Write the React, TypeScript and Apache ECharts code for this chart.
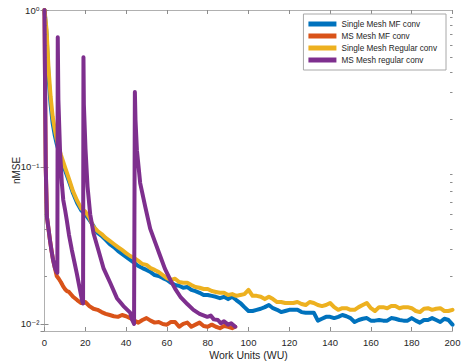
import React, { useEffect, useRef } from 'react';
import * as echarts from 'echarts';

// Shared WU grid for the two single-mesh curves
const gridX = [
  0, 1, 2, 3, 4, 5, 6, 7,
  8, 10, 12, 14, 16, 18, 20, 22, 24, 26, 28, 30,
  32, 34, 36, 38, 40, 42, 44, 46, 48, 50,
  52, 54, 56, 58, 60, 62, 64, 66, 68, 70,
  72, 74, 76, 78, 80, 82, 84, 86, 88, 90,
  92, 94, 96, 98, 100, 102, 104, 106, 108, 110,
  112, 114, 116, 118, 120, 122, 124, 126, 128, 130,
  132, 134, 136, 138, 140, 142, 144, 146, 148, 150,
  152, 154, 156, 158, 160, 162, 164, 166, 168, 170,
  172, 174, 176, 178, 180, 182, 184, 186, 188, 190,
  192, 194, 196, 198, 200,
];

const singleMF = [
  1.0, 0.7, 0.37, 0.25, 0.19, 0.16, 0.14, 0.126,
  0.114, 0.096, 0.081, 0.068, 0.059, 0.053, 0.050, 0.046, 0.0421, 0.0380, 0.0364, 0.0343,
  0.0323, 0.0309, 0.0292, 0.0279, 0.0267, 0.0256, 0.0245, 0.0234, 0.0227, 0.0221,
  0.0214, 0.0205, 0.0202, 0.0196, 0.0191, 0.0183, 0.0177, 0.0175, 0.0170, 0.0172,
  0.0165, 0.0162, 0.0158, 0.0153, 0.0153, 0.0151, 0.0149, 0.0146, 0.0149, 0.0144,
  0.0149, 0.0142, 0.0136, 0.0128, 0.0121, 0.0121, 0.0123, 0.0125, 0.0128, 0.0132,
  0.0126, 0.0123, 0.0119, 0.0121, 0.0123, 0.0123, 0.0123, 0.0119, 0.0118, 0.0118,
  0.0118, 0.0105, 0.0108, 0.0111, 0.0111, 0.0109, 0.0111, 0.0114, 0.0112, 0.0109,
  0.0103, 0.0106, 0.0108, 0.0109, 0.0105, 0.0105, 0.0106, 0.0105, 0.0105, 0.0109,
  0.0108, 0.0106, 0.0105, 0.0105, 0.0109, 0.0105, 0.0102, 0.0106, 0.0106, 0.0109,
  0.0106, 0.0103, 0.0108, 0.0106, 0.0099,
];

const singleRegular = [
  1.0, 0.75, 0.42, 0.28, 0.21, 0.175, 0.15, 0.133,
  0.12, 0.1, 0.084, 0.07, 0.061, 0.0545, 0.052, 0.0475, 0.0415, 0.0391, 0.0374, 0.0353,
  0.0338, 0.0323, 0.0309, 0.0296, 0.0283, 0.0271, 0.0263, 0.0252, 0.0241, 0.0238,
  0.0227, 0.0221, 0.0214, 0.0205, 0.0196, 0.0191, 0.0194, 0.0185, 0.0183, 0.0183,
  0.0177, 0.0172, 0.0170, 0.0167, 0.0167, 0.0162, 0.0160, 0.0158, 0.0158, 0.0153,
  0.0155, 0.0151, 0.0153, 0.0155, 0.0165, 0.0151, 0.0151, 0.0149, 0.0144, 0.0149,
  0.0144, 0.0138, 0.0138, 0.0136, 0.0136, 0.0136, 0.0138, 0.0134, 0.0132, 0.0138,
  0.0136, 0.0132, 0.0130, 0.0132, 0.0136, 0.0128, 0.0123, 0.0126, 0.0126, 0.0123,
  0.0123, 0.0128, 0.0132, 0.0136, 0.0126, 0.0121, 0.0128, 0.0128, 0.0126, 0.0130,
  0.0130, 0.0126, 0.0128, 0.0128, 0.0126, 0.0121, 0.0119, 0.0125, 0.0126, 0.0123,
  0.0125, 0.0126, 0.0121, 0.0121, 0.0123,
];

const msMFX = [
  0, 0.3, 0.6, 1.2, 2, 2.7, 3.5, 4.2, 5,
  6, 7, 8, 9, 10, 11, 12,
  14, 16, 18, 20, 22, 24, 26, 28, 30, 32,
  34, 36, 38, 40, 42, 44, 46, 48, 50, 52,
  54, 56, 58, 60, 62, 64, 66, 68, 70, 72,
  74, 76, 78, 80, 82, 84, 86, 88, 90, 92,
  93.5,
];
const msMFY = [
  1.0, 0.3, 0.1, 0.048, 0.04, 0.034, 0.029, 0.0256, 0.023,
  0.0202, 0.0194, 0.0185, 0.0175, 0.0167, 0.0162, 0.0160,
  0.0149, 0.0142, 0.0136, 0.0138, 0.0130, 0.0125, 0.0123, 0.0119, 0.0116, 0.0114,
  0.0112, 0.0111, 0.0114, 0.0112, 0.0109, 0.0105, 0.0102, 0.0106, 0.0109, 0.0105,
  0.0102, 0.0103, 0.0100, 0.0099, 0.0103, 0.0103, 0.0096, 0.0100, 0.0102, 0.0096,
  0.0099, 0.0102, 0.0097, 0.0096, 0.0099, 0.0096, 0.0094, 0.0097, 0.0096, 0.0094,
  0.0096,
];

const msRegX = [
  0, 0.3, 0.6, 1.2, 2, 2.7, 3.5, 4.2, 5, 5.8,
  6.3, 6.5, 6.8, 7.6, 8.5, 9.2, 10.1, 10.9, 12, 13.4,
  14.6, 15.8, 17.4, 18.6, 18.9, 19.1, 19.3, 20.1, 21.1, 22.4,
  24, 26.4, 28.9, 32.2, 35.5, 38.7, 42, 43, 43.9, 44.3,
  44.6, 45.3, 46.9, 49.4, 51.8, 54.3, 56.8, 59, 61.7, 64,
  66.6, 70, 73, 76, 79.8, 81.5, 83, 85, 86.5, 88,
  90, 91.5, 93.5,
];
const msRegY = [
  1.0, 0.3, 0.1, 0.048, 0.04, 0.034, 0.029, 0.0256, 0.023, 0.0216,
  0.0212, 0.67, 0.27, 0.128, 0.079, 0.0616, 0.0532, 0.046, 0.037, 0.0296,
  0.025, 0.0211, 0.0165, 0.0138, 0.0135, 0.50, 0.25, 0.13, 0.075, 0.05,
  0.038, 0.0296, 0.0227, 0.0183, 0.0146, 0.013, 0.0118, 0.0106, 0.0100, 0.30,
  0.2, 0.128, 0.079, 0.0557, 0.0405, 0.033, 0.0269, 0.0225, 0.0191, 0.0168,
  0.0149, 0.0134, 0.0123, 0.0116, 0.0111, 0.0113, 0.0107, 0.0106, 0.0101, 0.0104,
  0.0099, 0.0101, 0.0096,
];

const seriesNames = [
  'Single Mesh MF conv',
  'MS Mesh MF conv',
  'Single Mesh Regular conv',
  'MS Mesh regular conv',
];
const seriesColors = ['#0072BD', '#D95319', '#EDB120', '#7E2F8E'];

const xMin = 0;
const xMax = 200;
const xStep = 20;
const yMin = 0.00902;
const yMax = 1;
const yMinorTicks = [
  0.02, 0.03, 0.04, 0.05, 0.06, 0.07, 0.08, 0.09,
  0.2, 0.3, 0.4, 0.5, 0.6, 0.7, 0.8, 0.9,
];
const supDigits: Record<string, string> = {
  '-': '\u207B', '0': '\u2070', '1': '\u00B9', '2': '\u00B2', '3': '\u00B3',
};

export default function App() {
  const ref = useRef<HTMLDivElement>(null);
  useEffect(() => {
    const chart = echarts.init(ref.current as HTMLDivElement, null, { renderer: 'svg' });
    const font = "'Liberation Sans', Arial, Helvetica, 'DejaVu Sans', sans-serif";
    const axisGray = '#b0b0b0';
    const tickGray = '#8c8c8c';
    const textColor = '#262626';
    const zip = (xs: number[], ys: number[]) => xs.map((x, i) => [x, ys[i]]);
    const minorLen = 1.2;
    const minorLines = [
      ...yMinorTicks.map((v) => [{ coord: [xMin, v] }, { coord: [xMin + minorLen, v] }]),
      ...yMinorTicks.map((v) => [{ coord: [xMax - minorLen, v] }, { coord: [xMax, v] }]),
    ];
    const lineSeries = (i: number, data: number[][], extra: any = {}) => ({
      name: seriesNames[i],
      type: 'line',
      data,
      showSymbol: false,
      symbol: 'none',
      color: seriesColors[i],
      lineStyle: { width: 4, color: seriesColors[i], cap: 'round', join: 'round' },
      emphasis: { disabled: true },
      z: 2 + i,
      ...extra,
    });
    const xAxisBase = {
      type: 'value',
      min: xMin,
      max: xMax,
      interval: xStep,
      splitLine: { show: false },
      axisLine: { show: true, lineStyle: { color: axisGray, width: 1 } },
      axisTick: { show: true, inside: true, length: 4, lineStyle: { color: tickGray } },
    };
    const yAxisBase = {
      type: 'log',
      logBase: 10,
      min: yMin,
      max: yMax,
      splitLine: { show: false },
      minorTick: { show: false },
      axisLine: { show: true, lineStyle: { color: axisGray, width: 1 } },
      axisTick: { show: true, inside: true, length: 4, lineStyle: { color: tickGray } },
    };
    chart.setOption({
      animation: false,
      backgroundColor: '#ffffff',
      textStyle: { fontFamily: font },
      grid: {
        left: 44.5, right: 9.5, top: 10, bottom: 31,
        containLabel: false, outerBoundsMode: 'none',
      },
      legend: {
        orient: 'vertical',
        right: 16,
        top: 14,
        padding: [4, 9, 4, 5],
        itemWidth: 28,
        itemHeight: 5,
        itemGap: 0,
        icon: 'rect',
        borderColor: '#a8a8a8',
        borderWidth: 1,
        backgroundColor: '#ffffff',
        selectedMode: false,
        textStyle: { fontSize: 8.2, color: textColor, fontFamily: font, lineHeight: 12 },
        data: seriesNames,
      },
      xAxis: [
        {
          ...xAxisBase,
          position: 'bottom',
          name: 'Work Units (WU)',
          nameLocation: 'middle',
          nameGap: 18,
          nameMoveOverlap: false,
          nameTextStyle: { fontSize: 10.5, color: textColor, fontFamily: font },
          axisLabel: { fontSize: 9.5, color: textColor, margin: 6, fontFamily: font },
        },
        {
          ...xAxisBase,
          position: 'top',
          axisLabel: { show: false },
        },
      ],
      yAxis: [
        {
          ...yAxisBase,
          position: 'left',
          name: 'nMSE',
          nameLocation: 'middle',
          nameGap: 23,
          nameMoveOverlap: false,
          nameTextStyle: { fontSize: 10, color: textColor, fontFamily: font },
          axisLabel: {
            showMinLabel: false,
            margin: 5,
            fontSize: 9.5,
            color: textColor,
            fontFamily: font,
            formatter: (v: number) => {
              const e = String(Math.round(Math.log10(v)));
              return '10' + e.split('').map((c) => supDigits[c] || c).join('');
            },
          },
        },
        {
          ...yAxisBase,
          position: 'right',
          axisLabel: { show: false },
        },
      ],
      series: [
        lineSeries(0, zip(gridX, singleMF), {
          markLine: {
            silent: true,
            symbol: ['none', 'none'],
            label: { show: false },
            lineStyle: { color: tickGray, width: 1, type: 'solid' },
            emphasis: { disabled: true },
            data: minorLines,
          },
        }),
        lineSeries(1, zip(msMFX, msMFY)),
        lineSeries(2, zip(gridX, singleRegular)),
        lineSeries(3, zip(msRegX, msRegY)),
      ],
    });
    return () => chart.dispose();
  }, []);
  return (
    <div
      ref={ref}
      style={{ position: 'absolute', left: 0, top: 0, width: 462, height: 362, background: '#fff' }}
    />
  );
}
